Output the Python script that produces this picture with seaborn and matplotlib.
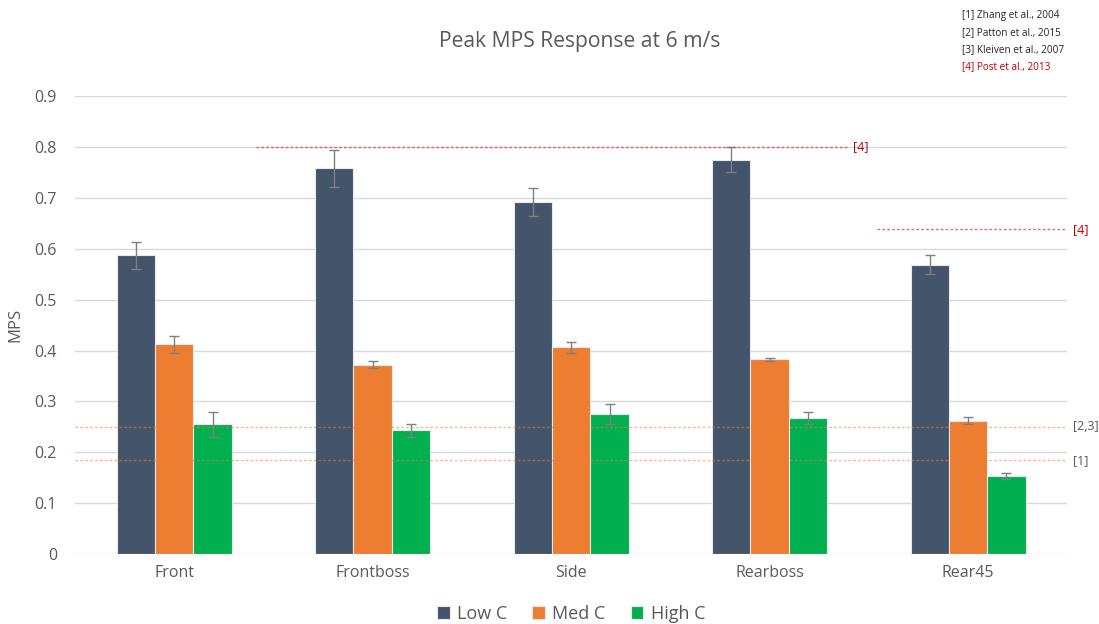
import matplotlib
matplotlib.use("Agg")
import matplotlib.pyplot as plt
import seaborn as sns
import pandas as pd

# Impact locations and condition groups
locations = ["Front", "Frontboss", "Side", "Rearboss", "Rear45"]
conditions = ["Low C", "Med C", "High C"]

# Peak MPS per location for each condition
low_c = [0.587, 0.758, 0.692, 0.775, 0.569]
med_c = [0.412, 0.372, 0.406, 0.383, 0.262]
high_c = [0.255, 0.243, 0.275, 0.268, 0.153]

# Error bar half-widths
low_err = [0.027, 0.036, 0.027, 0.024, 0.019]
med_err = [0.017, 0.007, 0.010, 0.003, 0.007]
high_err = [0.025, 0.013, 0.019, 0.012, 0.006]

# Injury thresholds from the literature
thresh_values = [0.184, 0.25, 0.80, 0.638]
thresh_labels = ["[1]", "[2,3]", "[4]", "[4]"]
references = ["[1] Zhang et al., 2004", "[2] Patton et al., 2015",
              "[3] Kleiven et al., 2007", "[4] Post et al., 2013"]

colors = ["#44546A", "#ED7D31", "#00B050"]
text_gray = "#595959"

sns.set_theme(style="white")
plt.rcParams["font.family"] = ["Open Sans", "DejaVu Sans"]

df = pd.DataFrame({
    "Location": locations * 3,
    "Condition": [c for c in conditions for _ in locations],
    "MPS": low_c + med_c + high_c,
})
errs = [low_err, med_err, high_err]

fig = plt.figure(figsize=(10.99, 6.24), dpi=100)
ax = fig.add_axes([0.0682, 0.112, 0.903, 0.734])

sns.barplot(data=df, x="Location", y="MPS", hue="Condition", order=locations,
            hue_order=conditions, palette=colors, saturation=1, width=0.58,
            ax=ax, errorbar=None, edgecolor="#E6E9EE", linewidth=0.8,
            legend=True, zorder=2)

for cont, err in zip(ax.containers, errs):
    xs = [p.get_x() + p.get_width() / 2 for p in cont]
    ys = [p.get_height() for p in cont]
    ax.errorbar(xs, ys, yerr=err, fmt="none", ecolor="#7F7F7F",
                elinewidth=1.0, capsize=3.5, capthick=1.0, zorder=3)

ax.set_ylim(0, 0.9)
ax.set_xlim(-0.5, 4.5)
ax.set_yticks([i / 10 for i in range(10)])
ax.set_yticklabels(["0"] + [f"{i / 10:.1f}" for i in range(1, 10)])
ax.yaxis.grid(True, color="#D9D9D9", linewidth=1.0, zorder=0)
ax.set_axisbelow(True)
for s in ax.spines.values():
    s.set_visible(False)
ax.tick_params(axis="both", length=0, labelsize=11.5, labelcolor=text_gray,
               pad=8)
ax.tick_params(axis="y", pad=13)
ax.set_xlabel("")
ax.set_ylabel("MPS", fontsize=12, color=text_gray)
ax.yaxis.set_label_coords(-0.052, 0.5)
fig.text(580 / 1099, 1 - 42 / 624, "Peak MPS Response at 6 m/s",
         fontsize=15.2, color=text_gray, ha="center", va="center")

# Threshold lines: [1] and [2,3] span the full width, [4] spans partial ranges
line_specs = [
    (thresh_values[0], -0.5, 4.5, "#ED7D31", 0.55, thresh_labels[0], text_gray),
    (thresh_values[1], -0.5, 4.5, "#ED7D31", 0.55, thresh_labels[1], text_gray),
    (thresh_values[2], 0.41, 3.39, "#E04A4A", 0.8, thresh_labels[2], "#C00000"),
    (thresh_values[3], 3.54, 4.5, "#E04A4A", 0.8, thresh_labels[3], "#C00000"),
]
for y, x0, x1, lc, la, lab, tc in line_specs:
    ax.plot([x0, x1], [y, y], linestyle=(0, (2, 1.5)), color=lc, alpha=la,
            linewidth=1.0, zorder=4)
    ax.text(x1 + 0.03, y, lab, fontsize=9, color=tc, va="center",
            ha="left", clip_on=False)

leg = ax.legend(loc="upper center", bbox_to_anchor=(0.5, -0.075), ncol=3,
                frameon=False, fontsize=13, handlelength=0.7,
                handleheight=0.7, handletextpad=0.4, columnspacing=1.4)
for t in leg.get_texts():
    t.set_color(text_gray)

for i, ref in enumerate(references):
    fig.text(0.875, 0.975 - i * 0.027, ref, fontsize=7.2,
             color="#C00000" if i == 3 else "#262626", ha="left", va="center")

fig.savefig("out.png", dpi=100)
